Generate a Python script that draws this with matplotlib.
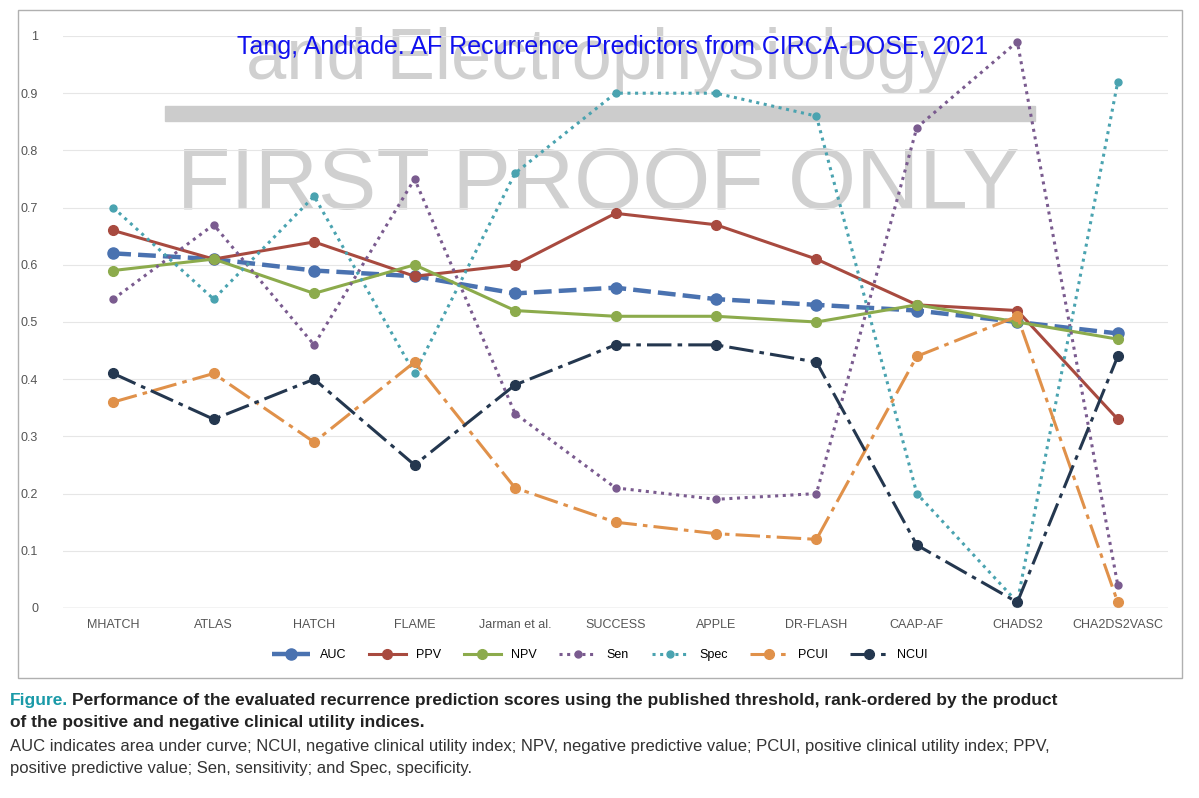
import matplotlib
matplotlib.use("Agg")
import matplotlib.pyplot as plt
from matplotlib.patches import Rectangle

categories = ["MHATCH","ATLAS","HATCH","FLAME","Jarman et al.","SUCCESS","APPLE","DR-FLASH","CAAP-AF","CHADS2","CHA2DS2VASC"]
auc  = [.62,.61,.59,.58,.55,.56,.54,.53,.52,.50,.48]
ppv  = [.66,.61,.64,.58,.60,.69,.67,.61,.53,.52,.33]
npv  = [.59,.61,.55,.60,.52,.51,.51,.50,.53,.50,.47]
sen  = [.54,.67,.46,.75,.34,.21,.19,.20,.84,.99,.04]
spec = [.70,.54,.72,.41,.76,.90,.90,.86,.20,.01,.92]
pcui = [.36,.41,.29,.43,.21,.15,.13,.12,.44,.51,.01]
ncui = [.41,.33,.40,.25,.39,.46,.46,.43,.11,.01,.44]
yticks = [0,0.1,0.2,0.3,0.4,0.5,0.6,0.7,0.8,0.9,1]
ytick_labels = ["0","0.1","0.2","0.3","0.4","0.5","0.6","0.7","0.8","0.9","1"]

plt.rcParams["font.family"] = "Liberation Sans"
fig = plt.figure(figsize=(11.99,7.98), dpi=100)
fig.patches.append(Rectangle((18/1199, 1-678/798), 1164/1199, 668/798, transform=fig.transFigure,
                             fill=False, ec="#b0b0b0", lw=1))

# watermark (behind the chart)
fig.text(600/1199, 1-60/798, "and Electrophysiology", fontsize=52, color="#d0d0d0",
         ha="center", va="center", zorder=-2)
fig.patches.append(Rectangle((165/1199, 1-121/798), 870/1199, 15/798, transform=fig.transFigure,
                             color="#cccccc", zorder=-2))
fig.text(598/1199, 1-187/798, "FIRST PROOF ONLY", fontsize=63, color="#d0d0d0",
         ha="center", va="center", zorder=-2)

ax = fig.add_axes([63/1199, 1-608/798, 1105/1199, 572/798])
x = list(range(len(categories)))
series = [
    ("AUC", auc, "#4a72b0", (0,(4,1.6)), 3.2, 8),
    ("PPV", ppv, "#a84a3f", "-", 2.2, 7),
    ("NPV", npv, "#8cab4c", "-", 2.2, 7),
    ("Sen", sen, "#7a5b8f", (0,(1,1.5)), 2.2, 5),
    ("Spec", spec, "#4aa3b0", (0,(1,1.5)), 2.2, 5),
    ("PCUI", pcui, "#e0914a", (0,(8,2,1.5,2)), 2.2, 7),
    ("NCUI", ncui, "#24374f", (0,(8,2,1.5,2)), 2.2, 7),
]
for name, vals, c, ls, lw, ms in series:
    ax.plot(x, vals, color=c, ls=ls, lw=lw, marker="o", ms=ms, label=name)
ax.set_xlim(-0.5, len(categories)-0.5)
ax.set_ylim(0, 1)
ax.set_yticks(yticks)
ax.set_yticklabels(ytick_labels)
ax.set_xticks(x)
ax.set_xticklabels(categories)
ax.tick_params(length=0, labelsize=9, colors="#555555")
ax.tick_params(axis="x", pad=8)
ax.tick_params(axis="y", pad=18)
for s in ax.spines.values():
    s.set_visible(False)
ax.axhline(0, color="#cccccc", lw=1)
ax.grid(axis="y", color="#e6e6e6", lw=0.8)
ax.set_axisbelow(True)
ax.patch.set_alpha(0)
fig.legend(loc="center", bbox_to_anchor=(600/1199, 1-655/798), ncol=7, frameon=False,
           fontsize=9, handlelength=3, columnspacing=1.8)

fig.text(613/1199, 1-47/798, "Tang, Andrade. AF Recurrence Predictors from CIRCA-DOSE, 2021",
         fontsize=18, color="#1010ee", ha="center", va="center", zorder=5)

# caption
fig.text(10/1199, 1-700/798, "Figure.", fontsize=12.5, weight="bold", color="#1a9aa8", va="center")
fig.text(72/1199, 1-700/798, "Performance of the evaluated recurrence prediction scores using the published threshold, rank-ordered by the product",
         fontsize=12.5, weight="bold", color="#222222", va="center")
fig.text(10/1199, 1-722/798, "of the positive and negative clinical utility indices.", fontsize=12.5, weight="bold", color="#222222", va="center")
fig.text(10/1199, 1-746/798, "AUC indicates area under curve; NCUI, negative clinical utility index; NPV, negative predictive value; PCUI, positive clinical utility index; PPV,",
         fontsize=12, color="#333333", va="center")
fig.text(10/1199, 1-769/798, "positive predictive value; Sen, sensitivity; and Spec, specificity.", fontsize=12, color="#333333", va="center")

fig.savefig("out.png", dpi=100)
